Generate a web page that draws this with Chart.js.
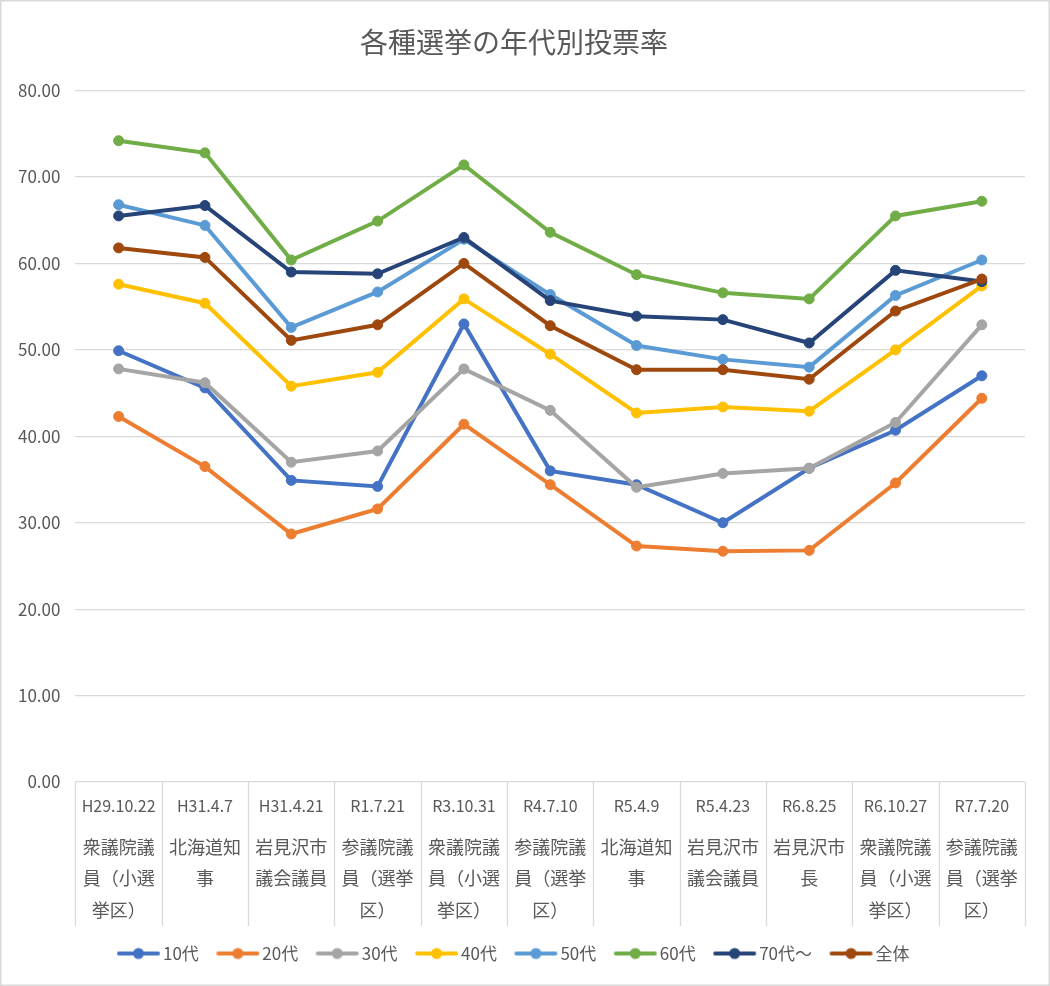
<!DOCTYPE html>
<html lang="ja">
<head>
<meta charset="utf-8">
<script src="https://cdn.jsdelivr.net/npm/chart.js@4/dist/chart.umd.min.js"></script>
<style>
  html, body { margin: 0; padding: 0; background: #fff; }
  #wrap { width: 1050px; height: 986px; position: relative; }
</style>
</head>
<body>
<div id="wrap"><canvas id="c"></canvas></div>
<script>
const chartTitle = "各種選挙の年代別投票率";
const dates = ["H29.10.22", "H31.4.7", "H31.4.21", "R1.7.21", "R3.10.31", "R4.7.10", "R5.4.9", "R5.4.23", "R6.8.25", "R6.10.27", "R7.7.20"];
const elections = [
  ["衆議院議", "員（小選", "挙区）"],
  ["北海道知", "事"],
  ["岩見沢市", "議会議員"],
  ["参議院議", "員（選挙", "区）"],
  ["衆議院議", "員（小選", "挙区）"],
  ["参議院議", "員（選挙", "区）"],
  ["北海道知", "事"],
  ["岩見沢市", "議会議員"],
  ["岩見沢市", "長"],
  ["衆議院議", "員（小選", "挙区）"],
  ["参議院議", "員（選挙", "区）"]
];
const seriesNames = ["10代", "20代", "30代", "40代", "50代", "60代", "70代～", "全体"];
const age10 = [49.9, 45.6, 34.9, 34.2, 53.0, 36.0, 34.4, 30.0, 36.3, 40.7, 47.0];
const age20 = [42.3, 36.5, 28.7, 31.6, 41.4, 34.4, 27.3, 26.7, 26.8, 34.6, 44.4];
const age30 = [47.8, 46.2, 37.0, 38.3, 47.8, 43.0, 34.1, 35.7, 36.3, 41.6, 52.9];
const age40 = [57.6, 55.4, 45.8, 47.4, 55.9, 49.5, 42.7, 43.4, 42.9, 50.0, 57.4];
const age50 = [66.8, 64.4, 52.6, 56.7, 62.8, 56.4, 50.5, 48.9, 48.0, 56.3, 60.4];
const age60 = [74.2, 72.8, 60.4, 64.9, 71.4, 63.6, 58.7, 56.6, 55.9, 65.5, 67.2];
const age70 = [65.5, 66.7, 59.0, 58.8, 63.0, 55.7, 53.9, 53.5, 50.8, 59.2, 57.9];
const overall = [61.8, 60.7, 51.1, 52.9, 60.0, 52.8, 47.7, 47.7, 46.6, 54.5, 58.2];
const seriesValues = [age10, age20, age30, age40, age50, age60, age70, overall];
const seriesColors = ["#4472C4", "#ED7D31", "#A5A5A5", "#FFC000", "#5B9BD5", "#70AD47", "#264478", "#9E480E"];

const FONT = "'Noto Sans CJK JP', 'Noto Sans', sans-serif";
const TXT = "#595959";
const GRID = "#d9d9d9";

function legendIcon(color) {
  const c = document.createElement('canvas');
  c.width = 49; c.height = 14;
  const g = c.getContext('2d');
  g.strokeStyle = color; g.lineWidth = 4; g.lineCap = 'round';
  g.beginPath(); g.moveTo(7, 7); g.lineTo(46, 7); g.stroke();
  g.fillStyle = color;
  g.beginPath(); g.arc(26.5, 7, 5.5, 0, Math.PI * 2); g.fill();
  return c;
}
const icons = seriesColors.map(legendIcon);

const datasets = seriesNames.map((name, i) => ({
  label: name,
  data: seriesValues[i],
  xAxisID: 'x',
  yAxisID: 'y',
  borderColor: seriesColors[i],
  backgroundColor: seriesColors[i],
  pointBackgroundColor: seriesColors[i],
  pointBorderColor: seriesColors[i],
  borderWidth: 4,
  pointRadius: 5,
  pointHoverRadius: 5,
  pointBorderWidth: 1,
  tension: 0,
  fill: false,
  order: seriesNames.length - i
}));

const frame = {
  id: 'frame',
  beforeDraw(chart) {
    const ctx = chart.ctx;
    ctx.save();
    ctx.fillStyle = '#fff';
    ctx.fillRect(0, 0, chart.width, chart.height);
    ctx.restore();
  },
  afterDraw(chart) {
    const ctx = chart.ctx;
    const x = chart.scales.x;
    const ca = chart.chartArea;
    ctx.save();
    ctx.strokeStyle = GRID;
    ctx.lineWidth = 1.3;
    const n = x.ticks.length;
    const bounds = [ca.left];
    for (let i = 1; i < n; i++) bounds.push((x.getPixelForTick(i - 1) + x.getPixelForTick(i)) / 2);
    bounds.push(ca.right);
    ctx.beginPath();
    bounds.forEach(b => { ctx.moveTo(Math.round(b) + 0.5, ca.bottom); ctx.lineTo(Math.round(b) + 0.5, x.bottom); });
    ctx.stroke();
    ctx.lineWidth = 1.5;
    ctx.strokeRect(0.75, 0.75, chart.width - 1.5, chart.height - 1.5);
    ctx.restore();
  }
};

new Chart(document.getElementById('c'), {
  type: 'line',
  data: { labels: elections, datasets },
  plugins: [frame],
  options: {
    responsive: true,
    maintainAspectRatio: false,
    animation: false,
    layout: { padding: { left: 3, right: 25, top: 0, bottom: 14 } },
    plugins: {
      title: {
        display: true,
        text: chartTitle,
        color: TXT,
        font: { family: FONT, size: 28, weight: 'normal', lineHeight: 1.2 },
        padding: { top: 26, bottom: 31 }
      },
      legend: {
        position: 'bottom',
        labels: {
          color: TXT,
          font: { family: FONT, size: 17 },
          usePointStyle: true,
          pointStyleWidth: 36,
          padding: 19,
          sort: (a, b) => a.datasetIndex - b.datasetIndex,
          generateLabels(chart) {
            const items = Chart.defaults.plugins.legend.labels.generateLabels(chart);
            items.forEach(it => { it.pointStyle = icons[it.datasetIndex]; });
            return items;
          }
        }
      },
      tooltip: { enabled: false }
    },
    scales: {
      x: {
        type: 'category',
        position: 'bottom',
        weight: 2,
        offset: true,
        grid: { display: false, drawTicks: false },
        border: { display: false },
        afterFit: s => { s.height = 104; },
        ticks: {
          color: TXT, autoSkip: false, maxRotation: 0, minRotation: 0, padding: 9,
          font: { family: FONT, size: 18, lineHeight: 1.75 }
        }
      },
      xDate: {
        type: 'category',
        position: 'bottom',
        weight: 1,
        labels: dates,
        offset: true,
        grid: { display: false, drawTicks: false },
        border: { display: false },
        afterFit: s => { s.height = 40; },
        ticks: {
          color: TXT, autoSkip: false, maxRotation: 0, minRotation: 0, padding: 8,
          font: { family: FONT, size: 16, lineHeight: 2 }
        }
      },
      y: {
        min: 0,
        max: 80,
        grid: { color: GRID, lineWidth: 1.3, drawTicks: false },
        border: { display: false },
        ticks: {
          stepSize: 10,
          color: TXT,
          padding: 15,
          font: { family: FONT, size: 17 },
          callback: v => Number(v).toFixed(2)
        }
      }
    }
  }
});
</script>
</body>
</html>
